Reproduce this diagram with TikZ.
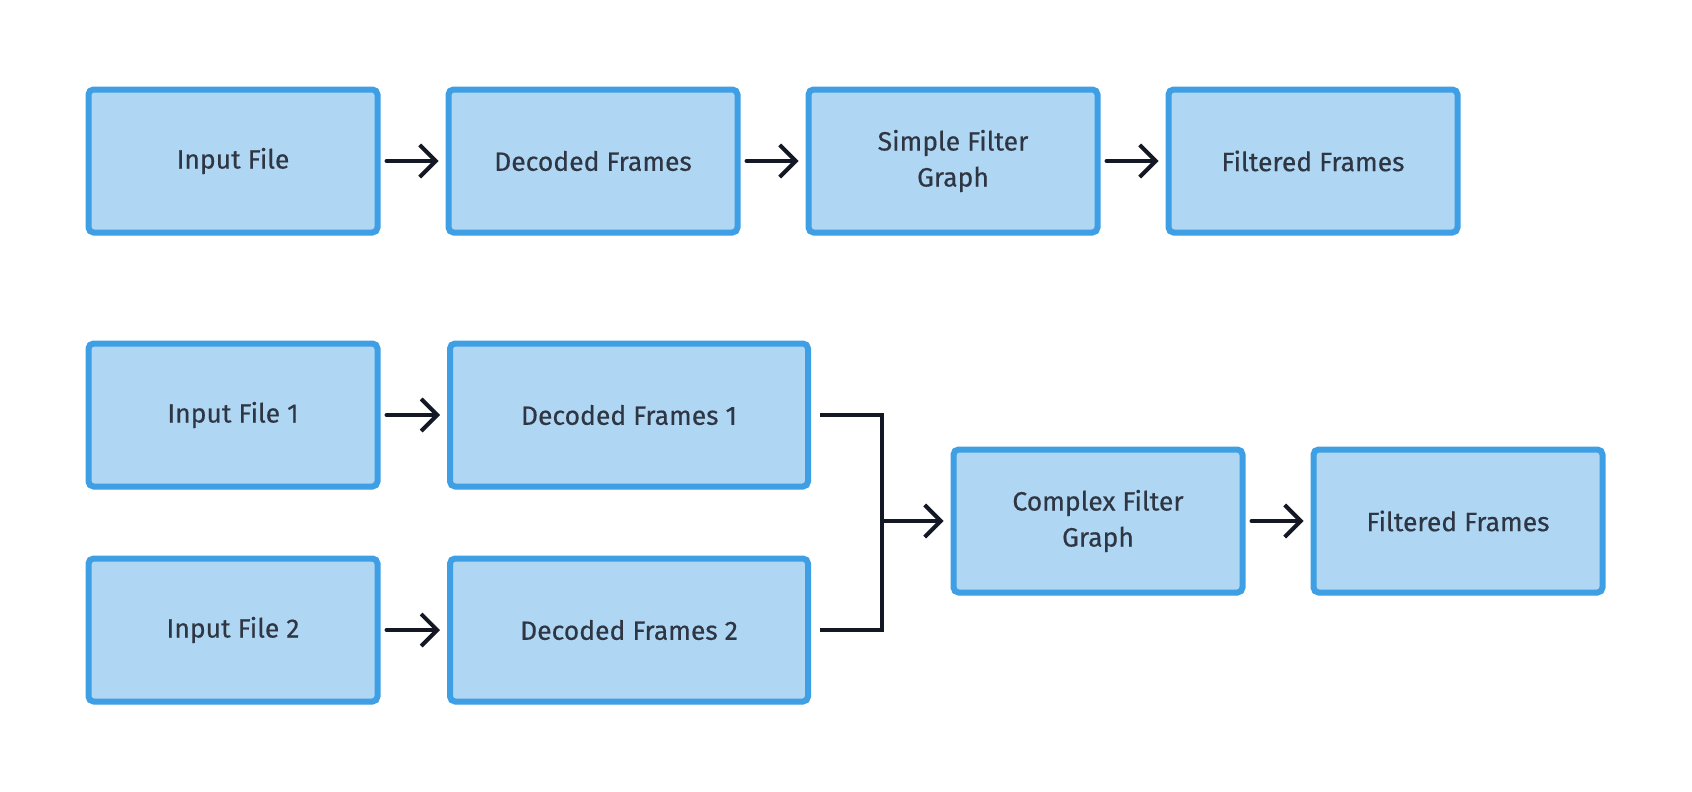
\documentclass[tikz,border=0pt]{standalone}
\usepackage{fontspec}
\setmainfont{Fira Sans}
\usetikzlibrary{arrows.meta,shadows}
\definecolor{boxfill}{HTML}{AFD6F2}
\definecolor{boxline}{HTML}{3E9FE5}
\definecolor{textgray}{HTML}{2F3643}
\definecolor{arrowink}{HTML}{141824}
\tikzset{
	stage/.style={draw=boxline, fill=boxfill, line width=6pt, rounded corners=5pt,
		minimum width=289pt, minimum height=143pt, align=center, text=textgray,
		font=\fontsize{26.5}{36}\selectfont\addfontfeature{FakeBold=0.4},
		drop shadow={opacity=0.10, shadow xshift=1pt, shadow yshift=-3pt}},
	wide/.style={minimum width=358pt},
	flow/.style={draw=arrowink, line width=4pt, line cap=round,
		-{Straight Barb[length=16pt,width=32pt,line width=4pt]}},
	wire/.style={draw=arrowink, line width=4pt}
}
\begin{document}
\begin{tikzpicture}[x=1pt, y=-1pt]
		%%%%% START %%%%%
		\useasboundingbox (0, 0) rectangle (1692, 792);
		
		% simple filter graph
		\node[stage] (in) at (233, 161) {Input File};
		\node[stage] (dec) at (593, 161) {Decoded Frames};
		\node[stage] (sfg) at (953, 161) {Simple Filter\\Graph};
		\node[stage] (out) at (1313, 161) {Filtered Frames};
		
		\draw[flow, shorten <=6pt, shorten >=7pt] (in) -- (dec);
		\draw[flow, shorten <=6pt, shorten >=7pt] (dec) -- (sfg);
		\draw[flow, shorten <=6pt, shorten >=7pt] (sfg) -- (out);
		
		% complex filter graph
		\node[stage] (inA) at (233, 415) {Input File 1};
		\node[stage, wide] (decA) at (629, 415) {Decoded Frames 1};
		\node[stage] (inB) at (233, 630) {Input File 2};
		\node[stage, wide] (decB) at (629, 630) {Decoded Frames 2};
		\node[stage] (cfg) at (1098, 521) {Complex Filter\\Graph};
		\node[stage] (outC) at (1458, 521) {Filtered Frames};
		
		\draw[flow, shorten <=6pt, shorten >=7pt] (inA) -- (decA);
		\draw[flow, shorten <=6pt, shorten >=7pt] (inB) -- (decB);
		
		\coordinate (merge) at (882, 521);
		\draw[wire] ([xshift=9pt]decA.east) -| (merge) |- ([xshift=9pt]decB.east);
		\draw[flow, shorten >=7pt] (merge) -- (cfg);
		\draw[flow, shorten <=6pt, shorten >=7pt] (cfg) -- (outC);
		%%%%% END %%%%%
\end{tikzpicture}
\end{document}
